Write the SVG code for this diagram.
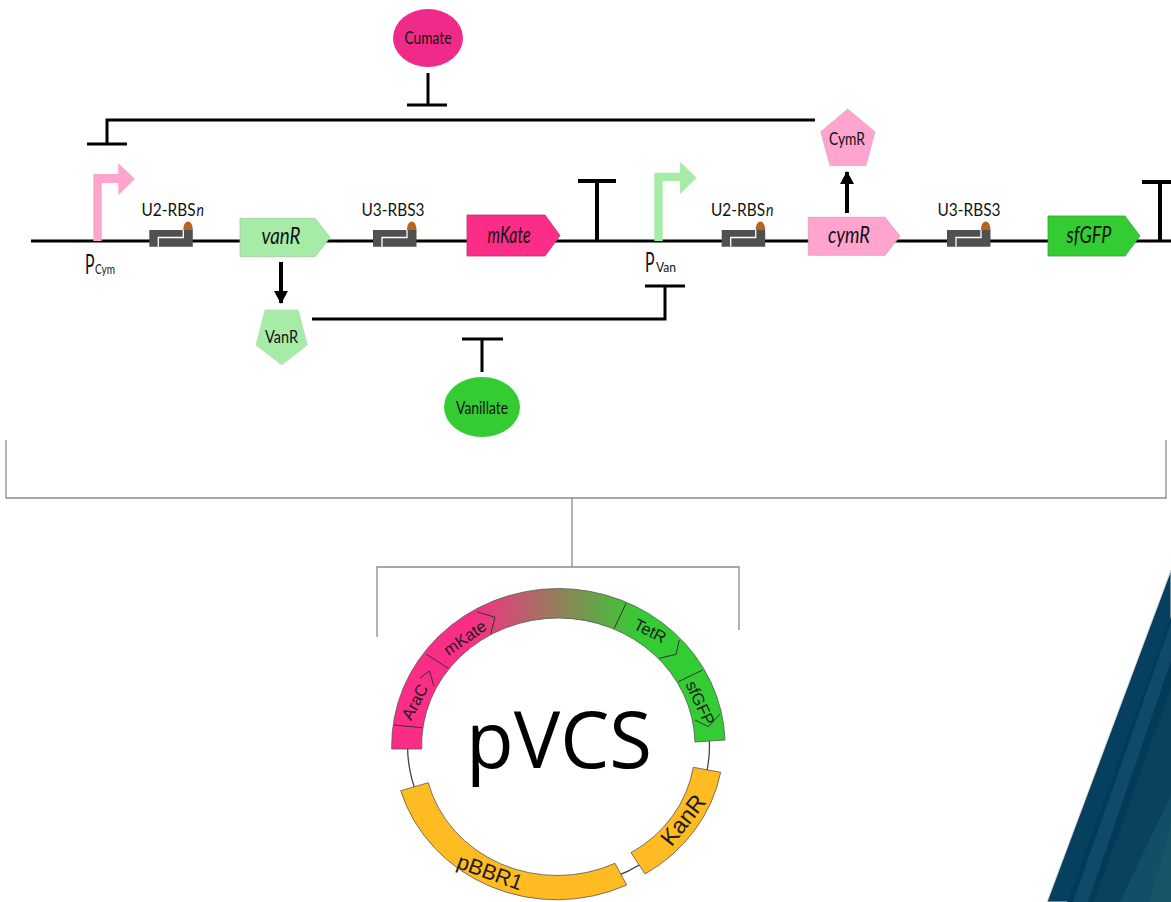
<svg xmlns="http://www.w3.org/2000/svg" width="1171" height="902" viewBox="0 0 1171 902">
<style>
text{font-family:Lato,"Open Sans",sans-serif;fill:#111}
.gene{font-size:23px;font-style:italic;text-anchor:middle}
.lab{font-size:17px}
.small{font-size:17px;text-anchor:middle}
.w{fill:none;stroke:#000;stroke-width:3}
.thick{fill:none;stroke:#000;stroke-width:4}
.br{fill:none;stroke:#8a8a8a;stroke-width:1.300}
.seg{fill:none;stroke:#333;stroke-width:1}
.ring{stroke:#555;stroke-width:.8}
.pl{font-family:"Liberation Sans",Arial,sans-serif;fill:#1c1c1c;text-anchor:middle}
</style>
<defs>
<g id="rbs">
<path d="M34 0C34 -5 36 -8.500 38.700 -8.500C41.500 -8.500 43.500 -5 43.500 0Z" fill="#b5651d"/>
<path d="M0 0H43.500V16.700H0Z" fill="#505050"/>
<path d="M9 16.700V7.500H34V0" fill="none" stroke="#fff" stroke-width="1.300"/>
</g>
<linearGradient id="grad" gradientUnits="userSpaceOnUse" x1="470" y1="0" x2="640" y2="0">
<stop offset="0" stop-color="#fb2d86"/>
<stop offset="1" stop-color="#33cc33"/>
</linearGradient>
<marker id="arr" markerUnits="userSpaceOnUse" markerWidth="14" markerHeight="14" refX="12" refY="7" orient="auto"><path d="M0 0L13 7L0 14Z" fill="#000"/></marker>
</defs>
<rect width="1171" height="902" fill="#fff"/>
<g id="corner">
<polygon points="1171,570 1047,902 1171,902" fill="#07405f" stroke="#d8d8d8" stroke-width="1"/>
<polygon points="1171,617 1067,902 1171,902" fill="#033a5a"/>
<polygon points="1171,622 1073,902 1171,902" fill="#0f4a68"/>
<polygon points="1171,661 1088,902 1171,902" fill="#043a58"/>
<polygon points="1171,688 1094,902 1171,902" fill="#0a415e"/>
<polygon points="1171,795 1120,902 1171,902" fill="#134e69"/>
<polygon points="1171,823 1150,902 1171,902" fill="#175468"/>
</g>
<g id="connectors">
<path class="w" d="M31 241H1171"/>
<path class="w" d="M407 105H447M428 73V105"/>
<path class="w" d="M815 120H107V144M87 144H127"/>
<path class="w" d="M312 319H665V286M645 286H685"/>
<path class="w" d="M462 339H503M482 339V372"/>
<path class="thick" d="M281 262V303" marker-end="url(#arr)"/>
<path class="thick" d="M847 213V172" marker-end="url(#arr)"/>
<path class="thick" d="M578 181H616M597 181V241"/>
<path class="thick" d="M1142 182H1171M1160 182V241"/>
<path class="br" d="M6 440V498H1166V440M572 498V567M377 637V567H739V630"/>
</g>
<g id="cumate"><ellipse cx="428" cy="38" rx="35" ry="29" fill="#f02a88"/><text class="small" x="428" y="44" textLength="47" lengthAdjust="spacingAndGlyphs">Cumate</text></g>
<g id="vanillate"><ellipse cx="482" cy="407" rx="38" ry="30" fill="#33cc33"/><text class="small" x="482" y="414" textLength="52" lengthAdjust="spacingAndGlyphs">Vanillate</text></g>
<g id="pcym"><polygon points="93.300,241 93.300,174 118.300,174 118.300,163.300 135,179 118.300,195 118.300,183 101.700,183 101.700,241" fill="#ffa3cf"/><text x="85" y="274" font-size="27" textLength="9.500" lengthAdjust="spacingAndGlyphs">P</text><text x="95" y="274" font-size="13" textLength="20" lengthAdjust="spacingAndGlyphs">Cym</text></g>
<g id="pvan"><polygon points="654.300,241 654.300,172.700 680,172.700 680,161.700 696.700,177.700 680,194 680,181 662.700,181 662.700,241" fill="#a6eba6"/><text x="645" y="272" font-size="27" textLength="9.500" lengthAdjust="spacingAndGlyphs">P</text><text x="656" y="272" font-size="13" textLength="20" lengthAdjust="spacingAndGlyphs">Van</text></g>
<g id="rbs1"><use href="#rbs" x="149.300" y="230"/><text class="lab" x="141.500" y="216" textLength="54" lengthAdjust="spacingAndGlyphs">U2-RBS</text><text class="lab" font-style="italic" x="196.500" y="216" textLength="7.500" lengthAdjust="spacingAndGlyphs">n</text></g>
<g id="rbs2"><use href="#rbs" x="373" y="230"/><text class="lab" x="393" y="216" text-anchor="middle" textLength="63" lengthAdjust="spacingAndGlyphs">U3-RBS3</text></g>
<g id="rbs3"><use href="#rbs" x="721.700" y="230"/><text class="lab" x="711" y="216" textLength="54" lengthAdjust="spacingAndGlyphs">U2-RBS</text><text class="lab" font-style="italic" x="766" y="216" textLength="7.500" lengthAdjust="spacingAndGlyphs">n</text></g>
<g id="rbs4"><use href="#rbs" x="947" y="230"/><text class="lab" x="969" y="216" text-anchor="middle" textLength="63" lengthAdjust="spacingAndGlyphs">U3-RBS3</text></g>
<g id="vanR"><polygon points="240,218.300 315,218.300 330,237.500 315,256.700 240,256.700" fill="#a6eba6" stroke="#9fc99f" stroke-width=".8"/><text class="gene" x="281" y="244" textLength="39" lengthAdjust="spacingAndGlyphs">vanR</text></g>
<g id="mKate"><polygon points="467,215 545,215 560,235.500 545,256 467,256" fill="#fb2d86" stroke="#c03070" stroke-width=".8"/><text class="gene" x="509" y="243" textLength="43" lengthAdjust="spacingAndGlyphs">mKate</text></g>
<g id="cymR"><polygon points="808.300,217.300 885,217.300 900,236.300 885,255.300 808.300,255.300" fill="#ffa3cf" stroke="#d8a0bc" stroke-width=".8"/><text class="gene" x="849" y="243" textLength="42" lengthAdjust="spacingAndGlyphs">cymR</text></g>
<g id="sfGFP"><polygon points="1048,216 1125,216 1140,236 1125,256 1048,256" fill="#33cc33" stroke="#40a040" stroke-width=".8"/><text class="gene" x="1089" y="243" textLength="45" lengthAdjust="spacingAndGlyphs">sfGFP</text></g>
<g id="VanR"><polygon points="265,310 298.300,310 307.300,345 281.700,365 256,345" fill="#a6eba6" stroke="#bcdcbc" stroke-width=".8"/><text class="small" x="281.500" y="343" textLength="33" lengthAdjust="spacingAndGlyphs">VanR</text></g>
<g id="CymR"><polygon points="847.700,109 875,131.700 866,165.700 830,165.700 820.700,131.700" fill="#ffa3cf" stroke="#e0b0c8" stroke-width=".8"/><text class="small" x="847" y="145" textLength="36" lengthAdjust="spacingAndGlyphs">CymR</text></g>
<g id="plasmid">
<ellipse cx="558.500" cy="745" rx="151" ry="142" fill="#fff" stroke="#444" stroke-width="1.300"/>
<path class="ring" fill="url(#grad)" d="M391.700 749A167 157 0 0 1 558.500 588.500A167 157 0 0 1 725 740L695 742A137 127 0 0 0 558.500 618A137 127 0 0 0 421.700 749Z"/>
<path class="ring" fill="#ffbb22" d="M400.700 790.700A163 153 0 0 0 626.700 885L615 863.300A133 123 0 0 1 428.300 782.700Z"/>
<path class="ring" fill="#ffbb22" d="M645 874A163 153 0 0 0 720.700 772.300L693.300 767.300A133 123 0 0 1 631 852.700Z"/>
<path class="seg" d="M394 725L422.300 727.700M434 686L429.300 671L420 678M426 654L448.300 668.300M476.700 611.700L495 617.300L490.700 634M626 603.300L614.300 628.300M679.300 640L676 654.300L659.300 658.300M702.700 670L678.300 681.700M720 714L708.300 726.700L695 720"/>
<text class="pl" font-size="16.500" transform="translate(415 702) rotate(-62)" y="5.500">AraC</text>
<text class="pl" font-size="16.500" transform="translate(465 638) rotate(-35)" y="5.500">mKate</text>
<text class="pl" font-size="16.500" transform="translate(650 631) rotate(27)" y="5.500">TetR</text>
<text class="pl" font-size="16.500" transform="translate(700 703) rotate(65)" y="5.500">sfGFP</text>
<text class="pl" font-size="23" transform="translate(683 820) rotate(-52)" y="8">KanR</text>
<text class="pl" font-size="21.500" transform="translate(490 872) rotate(20)" y="7.500">pBBR1</text>
<text x="559" y="768" font-size="78" text-anchor="middle" style="font-family:'Open Sans',sans-serif;fill:#000">pVCS</text>
</g>
</svg>
